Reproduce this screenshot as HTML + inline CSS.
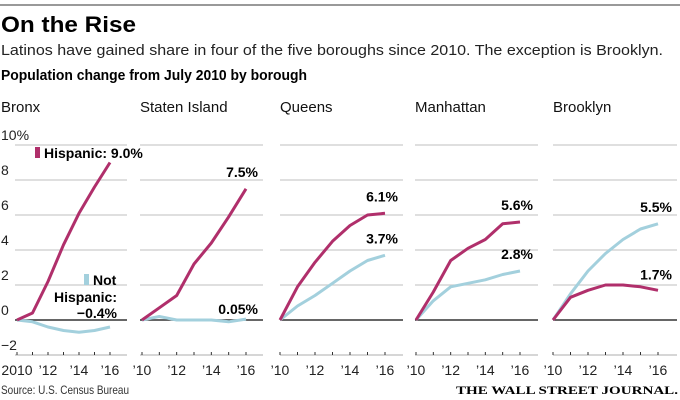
<!DOCTYPE html>
<html><head><meta charset="utf-8"><style>
body{margin:0;background:#fff}
svg{display:block;font-family:"Liberation Sans",sans-serif}
</style></head><body>
<svg id="c" width="680" height="400" viewBox="0 0 680 400">
<line x1="0" y1="5" x2="680" y2="5" stroke="#333" stroke-width="1"/>
<text x="1" y="32" font-size="22" font-weight="bold" textLength="135" lengthAdjust="spacingAndGlyphs">On the Rise</text>
<text x="1" y="55" font-size="15" fill="#222" textLength="662" lengthAdjust="spacingAndGlyphs">Latinos have gained share in four of the five boroughs since 2010. The exception is Brooklyn.</text>
<text x="1" y="80" font-size="15" font-weight="bold" textLength="306" lengthAdjust="spacingAndGlyphs">Population change from July 2010 by borough</text>
<text x="1" y="394" font-size="12" fill="#333" textLength="128" lengthAdjust="spacingAndGlyphs">Source: U.S. Census Bureau</text>
<text x="678" y="394" font-size="12" font-family="Liberation Serif,serif" font-weight="bold" text-anchor="end" textLength="222" lengthAdjust="spacingAndGlyphs">THE WALL STREET JOURNAL.</text>
<g id="plots"></g>
</svg>
<script>
const boroughs=["Bronx","Staten Island","Queens","Manhattan","Brooklyn"];
const years=[2010,2011,2012,2013,2014,2015,2016];
const hispanic=[
[0,0.4,2.2,4.3,6.1,7.6,9.0],
[0,0.7,1.4,3.2,4.4,5.9,7.5],
[0,1.9,3.3,4.5,5.4,6.0,6.1],
[0,1.6,3.4,4.1,4.6,5.5,5.6],
[0,1.3,1.7,2.0,2.0,1.9,1.7]];
const notHispanic=[
[0,-0.1,-0.4,-0.6,-0.7,-0.6,-0.4],
[0,0.2,0,0,0,-0.1,0.05],
[0,0.8,1.4,2.1,2.8,3.4,3.7],
[0,1.1,1.9,2.1,2.3,2.6,2.8],
[0,1.5,2.8,3.8,4.6,5.2,5.5]];
const hispLabels=["","7.5%","6.1%","5.6%","1.7%"];
const notLabels=["","0.05%","3.7%","2.8%","5.5%"];
const yTicks=[10,8,6,4,2,0,-2];
const yTickLabels=["10%","8","6","4","2","0","−2"];
const xTickLabels=[["2010","’12","’14","’16"],["’10","’12","’14","’16"],["’10","’12","’14","’16"],["’10","’12","’14","’16"],["’10","’12","’14","’16"]];

const NS="http://www.w3.org/2000/svg";
const g=document.getElementById("plots");
const y=v=>320-v*17.5;
const panels=[{x0:17,x1:110,g0:0,g1:127},{x0:142,x1:246,g0:140,g1:263},{x0:280,x1:385,g0:280,g1:403},{x0:416,x1:520,g0:415,g1:538},{x0:553,x1:658,g0:553,g1:677}];
function el(t,a,txt){const e=document.createElementNS(NS,t);for(const k in a)e.setAttribute(k,a[k]);if(txt!==undefined)e.textContent=txt;g.appendChild(e);return e;}
boroughs.forEach((b,i)=>{
 const p=panels[i];
 const x=yr=>p.x0+(yr-2010)*(p.x1-p.x0)/6;
 const t=el("text",{x:i==0?1:p.g0,y:112,"font-size":15,fill:"#111"},b);
 
 
 yTicks.forEach(v=>{
  if(v===0)return;
  const ln=el("line",{x1:i==0?15:p.g0,x2:p.g1,y1:y(v),y2:y(v),stroke:"#ccc","stroke-width":1.3});
  
  
 });
 const base=el("line",{x1:i==0?15:p.g0,x2:p.g1,y1:y(0),y2:y(0),stroke:"#333","stroke-width":1.5});
 
 
 const ax=el("line",{x1:p.g0+(i==0?15:0),x2:p.g1,y1:355,y2:355,stroke:"#bbb","stroke-width":1});
 
 
 years.forEach(yr=>{
  const tk=el("line",{x1:x(yr),x2:x(yr),y1:352,y2:355,stroke:"#333","stroke-width":1});
  
  
 });
 xTickLabels[i].forEach((l,k)=>{
  const tx=el("text",{x:x(2010+k*2),y:375,"font-size":14,fill:"#222","text-anchor":"middle"},l);
  
  
 });
 const path=arr=>arr.map((v,k)=>(k?"L":"M")+x(years[k]).toFixed(1)+","+y(v).toFixed(1)).join("");
 const ln2=el("path",{d:path(notHispanic[i]),fill:"none",stroke:"#a3d0dd","stroke-width":3,"stroke-linejoin":"round"});
 
 
 const ln1=el("path",{d:path(hispanic[i]),fill:"none",stroke:"#b02f6b","stroke-width":3,"stroke-linejoin":"round"});
 
 
 if(i>0){
  const hv=hispanic[i][6],nv=notHispanic[i][6];
  const hUp=hv>=nv;
  const lh=el("text",{x:p.g1-5,y:y(hv)-(hUp?12:11),"font-size":14,"font-weight":"bold","text-anchor":"end"},hispLabels[i]);
  
  
  const ln=el("text",{x:p.g1-5,y:y(nv)-(i==1?5:12),"font-size":14,"font-weight":"bold","text-anchor":"end"},notLabels[i]);
  
  
 }
});
yTicks.forEach((v,k)=>{
 const t=el("text",{x:1,y:y(v)-5,"font-size":14,fill:"#222"},yTickLabels[k]);
 
 
});
const s1=el("rect",{x:35,y:147,width:5,height:11,fill:"#b02f6b"});


const l1=el("text",{x:44,y:158,"font-size":14,"font-weight":"bold"},"Hispanic: "+hispanic[0][6].toFixed(1)+"%");


const s2=el("rect",{x:84,y:274,width:5,height:11,fill:"#a3d0dd"});


const l2=el("text",{x:93,y:285,"font-size":14,"font-weight":"bold"},"Not");


const l3=el("text",{x:117,y:302,"font-size":14,"font-weight":"bold","text-anchor":"end"},"Hispanic:");


const l4=el("text",{x:117,y:318,"font-size":14,"font-weight":"bold","text-anchor":"end"},"−"+Math.abs(notHispanic[0][6]).toFixed(1)+"%");


</script>
</body></html>
